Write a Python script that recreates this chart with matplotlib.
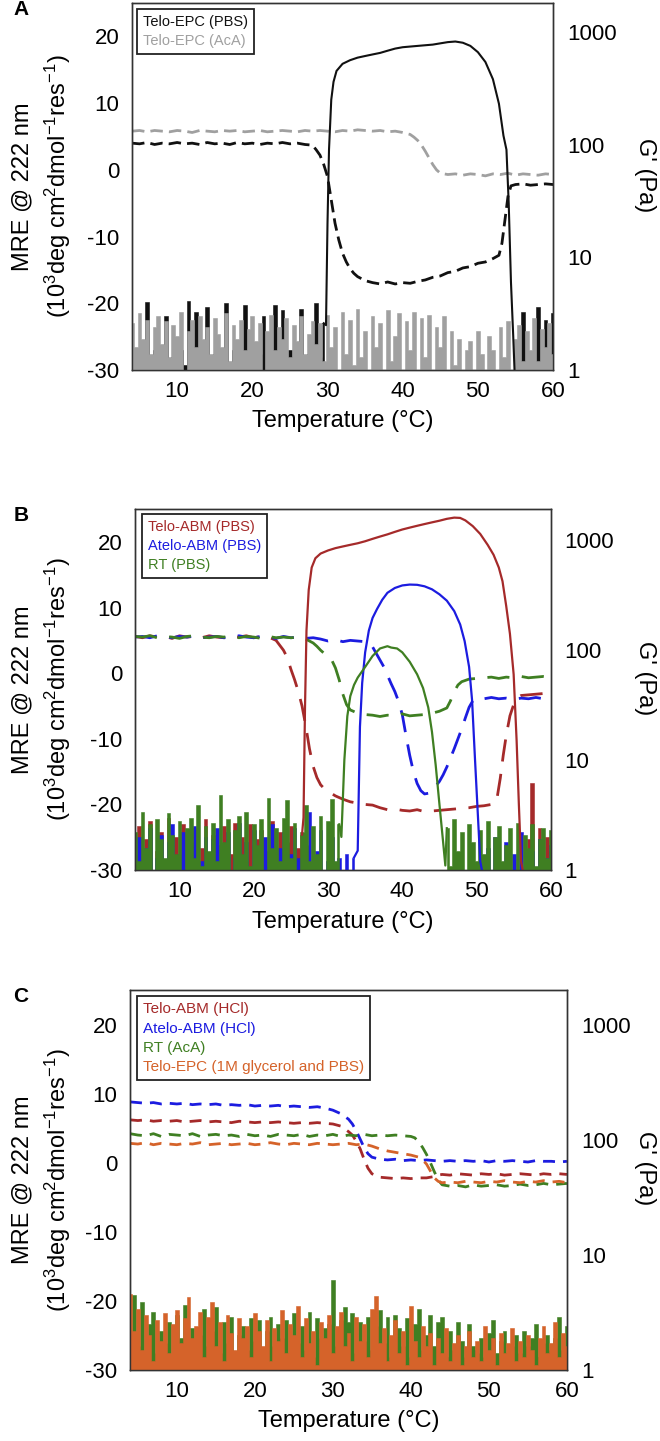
import numpy as np
import matplotlib.pyplot as plt
from matplotlib.lines import Line2D
from matplotlib.ticker import NullLocator

plt.rcParams['font.family'] = ['Liberation Sans', 'DejaVu Sans']
plt.rcParams['mathtext.default'] = 'regular'
plt.rcParams['axes.unicode_minus'] = False

RED = '#a52a2a'
BLUE = '#1c1ce0'
GREEN = '#3f7f22'
ORANGE = '#d5632a'
GREY = '#a0a0a0'
BLACK = '#111111'

# ---------------- panel A ----------------
# CD signal (MRE), Telo-EPC in PBS
tA_pbs_mre = np.r_[np.arange(4, 28), [28, 28.5, 29, 29.5, 30, 30.5, 31, 31.5, 32, 32.5, 33, 33.5],
                   np.arange(34, 53), [52.8, 53.2, 53.6, 54, 54.4], np.arange(55, 61)]
mA_pbs = [4.0, 3.9, 4.1, 3.8, 4.0, 3.9, 4.1, 3.9, 4.0, 3.8, 4.1, 3.9, 4.0, 3.8, 4.1, 3.9, 4.0, 3.8, 4.0, 3.9, 4.1, 3.9, 4.0, 3.8,
          3.7, 3.0, 2.2, 0.8, -1.0, -4.5, -8.0, -10.5, -12.5, -13.8, -14.8, -15.5,
          -16.0, -16.6, -16.9, -17.1, -16.8, -17.1, -16.9, -17.0, -16.7, -16.5, -16.1, -15.9, -15.4, -15.2, -14.7, -14.5, -14.0, -13.8, -13.3,
          -12.8, -11.0, -7.5, -4.0, -2.4,
          -2.2, -2.1, -2.3, -2.2, -2.1, -2.2]
# CD signal, Telo-EPC in acetic acid
tA_aca_mre = np.r_[np.arange(4, 41), [41, 41.5, 42, 42.5, 43, 43.5, 44, 44.5, 45], np.arange(46, 61)]
mA_aca = [5.8, 5.9, 5.7, 5.9, 5.8, 5.7, 5.9, 5.8, 5.6, 5.9, 5.8, 5.7, 5.9, 5.8, 5.9, 5.7, 5.8, 5.9, 5.7, 5.8, 5.9,
          5.8, 5.7, 5.9, 5.8, 5.9, 5.8, 5.7, 5.9, 5.8, 6.0, 5.9, 5.8, 5.9, 5.7, 5.8, 5.6,
          5.3, 4.9, 4.4, 3.7, 2.8, 1.8, 0.8, 0.0, -0.5,
          -0.7, -0.6, -0.8, -0.6, -0.7, -0.9, -0.6, -0.7, -0.5, -0.8, -0.6, -0.7, -0.8, -0.6, -0.7]
# storage modulus G' (Pa), Telo-EPC in PBS
gA_pbs_n1 = [1.0, 1.4, 0.6, 1.2, 4.0, 0.8, 1.5, 0.7, 1.1, 3.0,
             0.6, 1.3, 0.9, 1.5, 1.1, 4.1, 0.7, 3.3, 1.2, 0.8,
             3.6, 1.0, 1.4, 0.6, 1.2, 3.9, 0.9, 1.5, 0.7, 1.1,
             3.8, 0.6, 1.3, 0.9, 1.4, 3.0, 0.8, 1.2, 3.8, 0.7,
             3.4, 1.0, 1.5, 0.6, 1.2, 3.5, 0.9, 1.4, 0.8, 3.9,
             1.3, 2.6]
tA_pbs_rise = [29.8, 30.0, 30.2, 30.5, 30.8, 31.2, 32, 33, 34, 35, 36, 37, 38, 39, 40, 41, 42, 43, 44, 45, 46,
               47, 48, 49, 50, 51, 52, 52.8, 53.4, 53.8, 54.1, 54.4, 54.7]
gA_pbs_rise = [2.5, 20, 90, 250, 360, 450, 520, 560, 590, 610, 630, 650, 680, 710, 730, 740, 750, 760, 770, 790, 810,
               820, 800, 750, 660, 540, 380, 230, 120, 90, 30, 6, 2]
gA_pbs_n2 = [0.6, 1.2, 3.3, 0.8, 1.4, 1.0, 3.6, 0.8, 2.8, 1.1, 3.2]
# G', Telo-EPC in acetic acid (no gel)
gA_aca = [2.6, 1.6, 3.2, 1.9, 2.8, 1.4, 2.4, 3.0, 1.7, 2.7,
          1.3, 2.5, 2.0, 3.3, 0.7, 2.2, 2.8, 1.6, 3.0, 1.9,
          2.4, 1.4, 2.9, 2.1, 1.6, 3.2, 1.2, 2.5, 1.9, 2.8,
          1.5, 2.3, 3.0, 1.8, 2.6, 0.7, 2.2, 3.1, 1.5, 2.4,
          1.9, 2.9, 1.3, 2.5, 1.8, 3.0, 1.4, 2.1, 2.7, 1.7,
          2.6, 1.2, 3.1, 1.6, 2.4, 0.6, 3.3, 1.4, 2.8, 1.1,
          3.5, 1.3, 2.2, 0.6, 3.0, 1.6, 2.6, 1.0, 3.4, 1.2,
          2.0, 3.2, 0.6, 2.7, 1.5, 3.3, 1.0, 2.9, 1.3, 3.1,
          0.7, 2.4, 1.6, 3.0, 0.6, 2.2, 1.1, 1.9, 0.6, 1.5,
          1.8, 0.8, 2.2, 1.4, 0.6, 2.0, 1.5, 1.0, 2.4, 1.3,
          2.7, 1.0, 1.9, 2.5, 1.2, 2.2, 1.5, 2.9, 1.2, 2.3,
          1.6, 2.6, 1.4]

# ---------------- panel B ----------------
tB_red_mre = np.r_[np.arange(4, 23), [23, 24, 24.5, 25, 25.5, 26, 26.5, 27, 27.5, 28, 28.5, 29, 29.5],
                   np.arange(30, 53), [52.7, 53.2, 53.6, 54, 54.5, 55, 55.5], np.arange(56, 61)]
mB_red = [5.6, 5.4, 5.7, 5.5, 5.6, 5.3, 5.7, 5.5, 5.6, 5.4, 5.7, 5.5, 5.4, 5.6, 5.5, 5.7, 5.4, 5.6, 5.5,
          5.0, 3.5, 2.4, 0.6, -1.0, -2.8, -5.0, -8.0, -11.5, -14.2, -15.9, -17.0, -17.6,
          -18.0, -18.7, -19.2, -19.6, -19.8, -20.0, -20.1, -20.5, -20.8, -20.7, -20.9, -21.0, -20.8, -21.1, -21.0,
          -20.9, -20.8, -20.7, -20.6, -20.5, -20.3, -20.2, -20.0,
          -19.5, -16.0, -12.5, -9.5, -6.5, -4.8, -3.8,
          -3.4, -3.3, -3.2, -3.1, -3.0]
tB_blue_mre = np.r_[np.arange(4, 36), np.arange(35.5, 49.6, 0.5), np.arange(50, 61)]
mB_blue = [5.5, 5.6, 5.4, 5.7, 5.5, 5.4, 5.6, 5.5, 5.7, 5.4, 5.5, 5.6, 5.4, 5.5, 5.7, 5.5, 5.4, 5.6, 5.5, 5.3,
           5.6, 5.4, 5.5, 5.3, 5.4, 5.2, 4.9, 5.1, 4.8, 5.0, 4.9, 4.8,
           4.6, 4.0, 3.0, 2.0, 1.0, -0.3, -1.6, -2.8, -4.3, -6.3, -9.5, -12.5, -15.0, -16.8, -17.9,
           -18.4, -18.3, -17.9, -17.2, -16.5, -15.5, -14.3, -12.9, -11.5, -10.0, -8.5, -6.8, -5.2, -4.2,
           -3.8, -3.9, -3.7, -3.9, -3.8, -4.0, -3.8, -3.9, -3.7, -3.9, -4.0]
tB_green_mre = np.r_[np.arange(4, 29), [28.5, 29, 29.5, 30, 30.5, 31, 31.5, 32, 32.5, 33],
                     np.arange(34, 47), [46.5, 47, 47.5, 48], np.arange(49, 61)]
mB_green = [5.6, 5.5, 5.7, 5.4, 5.6, 5.5, 5.3, 5.6, 5.7, 5.5, 5.4, 5.6, 5.5, 5.7, 5.4, 5.6, 5.5, 5.3, 5.6, 5.4,
            5.5, 5.4, 5.5, 5.2, 4.6,
            4.1, 3.5, 3.0, 2.6, 2.0, 0.8, -1.0, -3.2, -4.8, -5.6,
            -6.1, -6.3, -6.4, -6.6, -6.4, -6.5, -6.2, -6.5, -6.4, -6.3, -6.1, -5.8, -5.3,
            -4.2, -2.8, -1.8, -1.3,
            -0.9, -0.8, -0.7, -0.6, -0.8, -0.6, -0.7, -0.5, -0.7, -0.6, -0.5, -0.6]

gB_red_n1 = [1.4, 2.5, 0.6, 1.9, 2.8, 0.7, 1.5, 2.2, 0.9, 3.0,
             0.6, 2.0, 1.3, 2.6, 0.7, 1.8, 2.4, 0.8, 1.6, 2.9,
             1.0, 2.1, 0.6, 1.7, 2.5, 0.9, 1.4, 2.7, 0.7, 2.0,
             1.2, 2.6, 0.6, 1.9, 2.3, 0.8, 1.5, 2.8, 1.0, 2.2,
             0.7, 1.8, 2.5, 0.9, 1.6, 2.1]
tB_red_rise = [26.7, 26.9, 27.1, 27.4, 27.8, 28.3, 29, 30, 31, 32, 33, 34, 35, 36, 37, 38, 39, 40, 41, 42, 43, 44,
               45, 46, 47, 47.8, 48.5, 49.5, 50.5, 51.5, 52.3, 53, 53.5, 54, 54.5, 55, 55.4, 55.7, 56.0]
gB_red_rise = [3, 30, 150, 350, 560, 680, 750, 800, 840, 870, 900, 930, 970, 1020, 1070, 1120, 1180, 1240, 1290,
               1340, 1390, 1440, 1490, 1550, 1590, 1580, 1500, 1330, 1130, 900, 730, 560, 420, 250, 140, 60, 15, 4, 1.2]
gB_red_n2 = [0.8, 1.9, 6.2, 0.7, 2.4, 1.2, 2.0, 1.5]

gB_blue_n1 = [1.1, 2.0, 0.6, 1.6, 2.4, 0.7, 1.3, 2.1, 0.8, 1.8,
              2.6, 0.6, 1.4, 2.2, 0.9, 1.7, 2.5, 0.7, 1.2, 2.0,
              0.6, 1.9, 2.4, 0.8, 1.5, 2.2, 0.7, 1.3, 2.7, 0.9,
              1.8, 0.6, 2.3, 1.4, 0.8, 2.0, 1.1, 2.6, 0.7, 1.6,
              2.2, 0.9, 1.4, 2.4, 1.3, 0.8, 1.7, 3.4, 0.7, 1.5,
              2.3, 0.9, 1.2, 2.0, 0.7, 1.3, 0.7, 1.4, 0.6, 1.3]
tB_blue_rise = [34.0, 34.3, 34.6, 35.0, 35.5, 36, 36.6, 37.3, 38, 39, 40, 41, 42, 43, 44, 45, 46, 47, 47.8, 48.4,
                49, 49.4, 49.8, 50.2, 50.5]
gB_blue_rise = [1.5, 20, 50, 95, 150, 195, 235, 285, 330, 365, 385, 392, 390, 378, 355, 320, 280, 225, 170, 120,
                70, 35, 10, 3, 1.2]
gB_blue_n2 = [0.8, 1.6, 0.6, 2.0, 1.1, 0.7, 1.8, 0.9, 1.4, 0.6, 2.2, 1.0, 0.7, 1.5, 0.9, 1.9, 0.6, 1.3, 1.7]

gB_green_n1 = [2.2, 1.2, 3.4, 1.6, 2.6, 1.0, 2.9, 1.9, 1.3, 3.3,
               2.1, 1.4, 2.8, 0.8, 2.4, 3.0, 1.3, 3.9, 1.1, 2.5,
               1.5, 2.7, 1.2, 4.8, 1.8, 2.9, 0.9, 2.3, 3.1, 1.4,
               3.4, 1.1, 2.6, 1.7, 2.9, 1.0, 4.5, 1.6, 2.4, 1.2,
               3.0, 4.3, 1.3, 2.7, 0.9, 2.2, 3.9, 1.2, 2.5, 1.4,
               3.1, 1.0, 2.8, 4.4, 1.2, 2.6]
tB_green_rise = [31.8, 32.2, 32.6, 33.0, 33.5, 34, 35, 36, 37, 38, 38.5, 39.3, 40, 41, 42, 42.8, 43.5, 44, 44.5,
                 45, 45.5, 45.8]
gB_green_rise = [2, 10, 25, 38, 48, 56, 70, 88, 103, 108, 105, 103, 95, 78, 60, 45, 30, 18, 9, 4, 1.8, 1.1]
gB_green_n2 = [2.4, 1.1, 2.9, 1.5, 2.2, 0.8, 2.6, 1.8, 1.2, 2.3,
               1.4, 2.8, 1.0, 2.0, 2.5, 1.2, 1.7, 2.4, 1.0, 2.7,
               0.9, 2.1, 1.6, 2.6, 1.1, 1.9, 2.4, 1.3, 2.3]

# ---------------- panel C ----------------
tC_blue_mre = np.r_[np.arange(4, 32), [32, 32.5, 33, 33.5, 34, 34.5, 35], np.arange(36, 61)]
mC_blue = [8.8, 8.7, 8.6, 8.7, 8.5, 8.6, 8.5, 8.6, 8.4, 8.5, 8.4, 8.5, 8.3, 8.4, 8.3, 8.4, 8.2, 8.3, 8.2, 8.3,
           8.1, 8.2, 8.1, 8.0, 8.1, 7.9, 7.6, 7.1,
           6.3, 5.6, 4.6, 3.4, 2.2, 1.3, 0.8,
           0.5, 0.4, 0.5, 0.3, 0.4, 0.3, 0.4, 0.3, 0.2, 0.3, 0.2, 0.3, 0.2, 0.3, 0.1, 0.3, 0.2, 0.3, 0.2, 0.1,
           0.3, 0.2, 0.2, 0.1, 0.2]
tC_red_mre = np.r_[np.arange(4, 32), [32, 32.5, 33, 33.5, 34, 34.5, 35], np.arange(36, 44), [43.5], np.arange(44, 61)]
mC_red = [6.2, 6.1, 6.2, 6.0, 6.1, 6.0, 6.1, 5.9, 6.0, 6.1, 5.9, 6.0, 5.9, 5.8, 6.0, 5.9, 5.8, 5.9, 5.8, 5.9,
          5.8, 5.7, 5.8, 5.7, 5.8, 5.7, 5.6, 5.3,
          4.5, 4.0, 3.1, 2.0, 0.5, -0.8, -1.6,
          -2.1, -2.2, -2.3, -2.2, -2.3, -2.2, -2.2, -2.0,
          -1.8,
          -1.7, -1.8, -1.6, -1.7, -1.8, -1.6, -1.7, -1.6, -1.8, -1.7, -1.6, -1.7, -1.8, -1.6, -1.7, -1.6, -1.7]
tC_green_mre = np.r_[np.arange(4, 41), [40.5, 41, 41.5, 42, 42.5, 43, 43.5, 44], np.arange(45, 61)]
mC_green = [4.2, 4.0, 3.9, 4.2, 3.8, 4.1, 4.0, 3.9, 4.2, 3.8, 4.0, 4.1, 3.9, 4.0, 3.8, 4.1, 3.9, 4.0, 3.8, 4.1,
            4.0, 3.9, 4.1, 3.8, 4.0, 3.9, 4.1, 3.8, 4.0, 3.9, 4.1, 3.9, 4.0, 3.9, 4.0, 3.9, 3.8,
            3.6, 3.0, 2.2, 1.2, 0.0, -1.3, -2.5, -3.2,
            -3.4, -3.3, -3.5, -3.2, -3.4, -3.3, -3.2, -3.4, -3.3, -3.1, -3.3, -3.2, -3.0, -3.2, -3.1, -3.0]
tC_orange_mre = np.r_[np.arange(4, 42), [41.5, 42, 42.5, 43, 43.5, 44], np.arange(45, 61)]
mC_orange = [2.8, 2.7, 2.9, 2.6, 2.8, 2.7, 2.6, 2.8, 2.7, 2.9, 2.6, 2.7, 2.8, 2.6, 2.7, 2.8, 2.6, 2.7, 2.9, 2.7,
             2.6, 2.8, 2.7, 2.6, 2.8, 2.7, 2.6, 2.7, 2.8, 2.6, 2.7,
             2.4, 2.0, 1.7, 1.5, 1.3, 1.1, 0.8,
             0.4, -0.2, -1.2, -2.2, -2.7, -2.9,
             -2.8, -2.9, -2.7, -2.8, -2.9, -2.7, -2.8, -2.6, -2.8, -2.9, -2.7, -2.8, -2.6, -2.8, -2.7, -2.9]

gC_red = [1.1, 1.4, 0.6, 1.2, 1.5, 0.8, 1.1, 1.3, 0.7, 1.0,
          1.3, 0.8, 1.2, 1.4, 0.6, 1.0, 1.3, 0.8, 1.1, 1.4,
          0.7, 1.6, 0.9, 1.2, 0.7, 1.0, 1.3, 0.8, 1.1, 0.7,
          1.0, 1.3, 0.8, 1.1, 0.9, 1.2, 0.7, 1.0, 1.2, 0.8,
          1.1, 0.9, 1.4, 0.7, 1.0, 1.2, 0.8, 1.0, 1.4, 0.7,
          1.1, 0.9, 1.3, 0.8, 1.0, 1.3, 0.9]
gC_blue = [0.9, 1.2, 0.6, 1.0, 1.3, 0.7, 1.0, 1.2, 0.6, 0.9,
           1.1, 0.7, 1.0, 1.3, 0.6, 0.9, 1.2, 0.7, 1.0, 0.8,
           1.1, 0.6, 0.9, 1.2, 0.6, 0.9, 1.1, 0.7, 1.0, 0.6,
           0.9, 1.1, 0.7, 1.0, 0.8, 1.1, 0.6, 0.9, 1.2, 1.1,
           0.9, 1.3, 1.1, 0.8, 1.5, 1.2, 1.0, 0.8, 1.2, 0.9,
           1.2, 0.7, 1.0, 0.9, 1.1, 0.7, 0.9]
gC_green = [2.0, 4.5, 1.6, 3.9, 1.2, 2.5, 3.2, 1.4, 2.2, 1.7,
            2.6, 1.3, 3.0, 1.9, 3.7, 1.5, 2.3, 1.8, 2.0, 3.4,
            1.6, 2.2, 3.5, 1.4, 2.6, 1.7, 2.9, 1.2, 2.0, 2.4,
            1.5, 2.8, 1.8, 2.7, 1.3, 2.2, 2.9, 1.6, 2.5, 1.9,
            2.7, 1.4, 3.1, 1.7, 2.4, 1.5, 3.2, 1.3, 2.8, 1.9,
            2.3, 2.5, 6.1, 1.6, 2.7, 3.5, 2.6, 3.1, 1.4, 2.6,
            1.8, 2.9, 1.5, 2.4, 3.3, 1.7, 2.9, 1.3, 3.0, 2.3,
            1.6, 2.8, 1.3, 2.5, 3.4, 1.5, 2.0, 3.0, 1.6, 2.6,
            2.9, 1.2, 2.2, 1.5, 2.6, 1.8, 1.3, 2.5, 1.6, 1.4,
            1.9, 1.3, 2.1, 2.7, 1.4, 1.8, 2.2, 1.3, 1.6, 2.0,
            1.4, 2.2, 1.6, 1.9, 2.5, 1.3, 1.7, 2.0, 1.5, 1.9,
            2.9, 1.5, 2.4]
gC_orange = [4.6, 2.2, 3.4, 1.5, 3.0, 2.0, 1.2, 2.7, 1.8, 3.1,
             1.4, 2.5, 3.3, 1.7, 2.8, 4.3, 1.9, 2.4, 3.2, 1.3,
             2.9, 3.9, 1.6, 2.6, 1.2, 3.0, 2.1, 1.5, 2.8, 1.9,
             2.4, 1.3, 3.1, 2.2, 1.6, 2.7, 1.2, 2.3, 1.8, 3.3,
             1.4, 2.5, 2.0, 3.6, 1.3, 2.8, 1.7, 2.2, 1.1, 2.6,
             1.9, 3.0, 1.4, 2.4, 3.2, 1.6, 2.1, 1.2, 2.9, 1.8,
             2.5, 1.3, 3.4, 4.4, 1.7, 2.3, 1.2, 2.0, 2.7, 1.4,
             2.2, 1.1, 3.6, 1.8, 1.3, 2.4, 1.6, 2.1, 1.1, 1.9,
             1.4, 2.3, 1.2, 1.7, 2.0, 1.1, 1.6, 2.2, 1.3, 1.8,
             1.2, 2.4, 1.5, 1.9, 1.1, 2.1, 1.4, 1.7, 2.3, 1.2,
             1.8, 1.3, 2.0, 1.5, 1.1, 1.9, 2.4, 1.4, 1.7, 2.6,
             1.3, 2.1, 1.6]

t_full = np.arange(4, 60.01, 0.5)
t_full_1 = np.arange(4, 61, 1.0)

LW_SOLID = 1.6
LW_DASH = 2.0


def make_panel(fig, pos, letter, gtop):
    ax = fig.add_axes(pos)
    ax.set_xlim(4, 60)
    ax.set_ylim(-30, 25)
    ax.set_xticks([10, 20, 30, 40, 50, 60])
    ax.set_yticks([-30, -20, -10, 0, 10, 20])
    ax.tick_params(length=0, labelsize=16)
    ax.tick_params(axis='y', pad=9)
    ax.tick_params(axis='x', pad=8)
    ax.set_xlabel('Temperature (°C)', fontsize=17, labelpad=6)
    ax2 = ax.twinx()
    ax2.set_yscale('log')
    ax2.set_ylim(1, gtop)
    ax2.set_yticks([1, 10, 100, 1000])
    ax2.set_yticklabels(['1', '10', '100', '1000'])
    ax2.yaxis.set_minor_locator(NullLocator())
    ax2.tick_params(length=0, labelsize=16, pad=10)
    for a in (ax, ax2):
        for s in a.spines.values():
            s.set_color('#333333')
            s.set_linewidth(1.0)
    y0, h = pos[1], pos[3]
    fig.text(0.034, y0 + h / 2, 'MRE @ 222 nm', rotation=90, ha='center', va='center', fontsize=17)
    fig.text(0.087, y0 + h / 2, r'(10$^3$deg cm$^2$dmol$^{-1}$res$^{-1}$)', rotation=90,
             ha='center', va='center', fontsize=17)
    fig.text(0.977, y0 + h / 2 + 0.008, "G' (Pa)", rotation=270, ha='center', va='center', fontsize=17)
    fig.text(0.02, y0 + h + 0.002, letter, ha='left', va='top', fontsize=15, fontweight='bold')
    return ax, ax2


def gcurve(ax2, parts, color, lw=LW_SOLID, draw='both'):
    # parts: list of (t, g, is_noise); the noisy baseline is a stepped filled trace
    for i, (t, g, is_noise) in enumerate(parts):
        t = np.asarray(t, float)
        g = np.asarray(g, float)
        if is_noise:
            if draw in ('both', 'noise'):
                ax2.fill_between(t, g, 0.3, step='mid', facecolor=color, edgecolor=color, lw=0.4)
        elif draw in ('both', 'line'):
            tt, gg = list(t), list(g)
            if i > 0:
                tt = [parts[i - 1][0][-1]] + tt
                gg = [parts[i - 1][1][-1]] + gg
            if i + 1 < len(parts):
                tt = tt + [parts[i + 1][0][0]]
                gg = gg + [parts[i + 1][1][0]]
            ax2.plot(tt, gg, color=color, lw=lw)


def add_legend(ax2, labels, colors, anchor, fs):
    handles = [Line2D([], [], lw=0) for _ in labels]
    leg = ax2.legend(handles, labels, loc='upper left', bbox_to_anchor=anchor, borderaxespad=0,
                     handlelength=0, handletextpad=0, labelcolor=colors, fontsize=fs, fancybox=False,
                     edgecolor='#222222', framealpha=1, labelspacing=0.35, borderpad=0.4)
    leg.get_frame().set_linewidth(1.3)


fig = plt.figure(figsize=(6.6, 14.41), dpi=100)

# ---- A ----
axA, axA2 = make_panel(fig, [0.200, 0.7432, 0.638, 0.2547], 'A', 1800)
axA.plot(tA_pbs_mre, mA_pbs, color=BLACK, lw=LW_DASH, dashes=(4.5, 2.2))
axA.plot(tA_aca_mre, mA_aca, color=GREY, lw=LW_DASH, dashes=(4.5, 2.2))
partsA = [(np.arange(4, 29.6, 0.5), gA_pbs_n1, True), (tA_pbs_rise, gA_pbs_rise, False),
          (np.arange(55, 60.01, 0.5), gA_pbs_n2, True)]
gcurve(axA2, partsA, BLACK, draw='noise')
gcurve(axA2, [(t_full, gA_aca, True)], GREY)
gcurve(axA2, partsA, BLACK, lw=1.5, draw='line')
add_legend(axA2, ['Telo-EPC (PBS)', 'Telo-EPC (AcA)'], [BLACK, GREY], (0.012, 0.984), 10.5)

# ---- B ----
axB, axB2 = make_panel(fig, [0.2045, 0.3962, 0.630, 0.2505], 'B', 1900)
axB.plot(tB_red_mre, mB_red, color=RED, lw=LW_DASH, dashes=(8, 4.5))
axB.plot(tB_blue_mre, mB_blue, color=BLUE, lw=LW_DASH, dashes=(8, 4.5))
axB.plot(tB_green_mre, mB_green, color=GREEN, lw=LW_DASH, dashes=(8, 4.5))
gcurve(axB2, [(np.arange(4, 26.6, 0.5), gB_red_n1, True), (tB_red_rise, gB_red_rise, False),
              (np.arange(56.5, 60.01, 0.5), gB_red_n2, True)], RED)
gcurve(axB2, [(np.arange(4, 33.6, 0.5), gB_blue_n1, True), (tB_blue_rise, gB_blue_rise, False),
              (np.arange(51, 60.01, 0.5), gB_blue_n2, True)], BLUE)
gcurve(axB2, [(np.arange(4, 31.6, 0.5), gB_green_n1, True), (tB_green_rise, gB_green_rise, False),
              (np.arange(46, 60.01, 0.5), gB_green_n2, True)], GREEN)
add_legend(axB2, ['Telo-ABM (PBS)', 'Atelo-ABM (PBS)', 'RT (PBS)'], [RED, BLUE, GREEN], (0.017, 0.986), 10.5)

# ---- C ----
axC, axC2 = make_panel(fig, [0.197, 0.0493, 0.662, 0.2637], 'C', 2000)
for t, m, c in [(tC_red_mre, mC_red, RED), (tC_blue_mre, mC_blue, BLUE),
                (tC_green_mre, mC_green, GREEN), (tC_orange_mre, mC_orange, ORANGE)]:
    axC.plot(t, m, color=c, lw=LW_DASH, dashes=(4.3, 2.9))
gcurve(axC2, [(t_full_1, gC_red, True)], RED)
gcurve(axC2, [(t_full_1, gC_blue, True)], BLUE)
gcurve(axC2, [(t_full, gC_green, True)], GREEN)
gcurve(axC2, [(t_full, gC_orange, True)], ORANGE)
add_legend(axC2, ['Telo-ABM (HCl)', 'Atelo-ABM (HCl)', 'RT (AcA)', 'Telo-EPC (1M glycerol and PBS)'],
           [RED, BLUE, GREEN, ORANGE], (0.016, 0.984), 11)

fig.savefig('out.png', dpi=100)
